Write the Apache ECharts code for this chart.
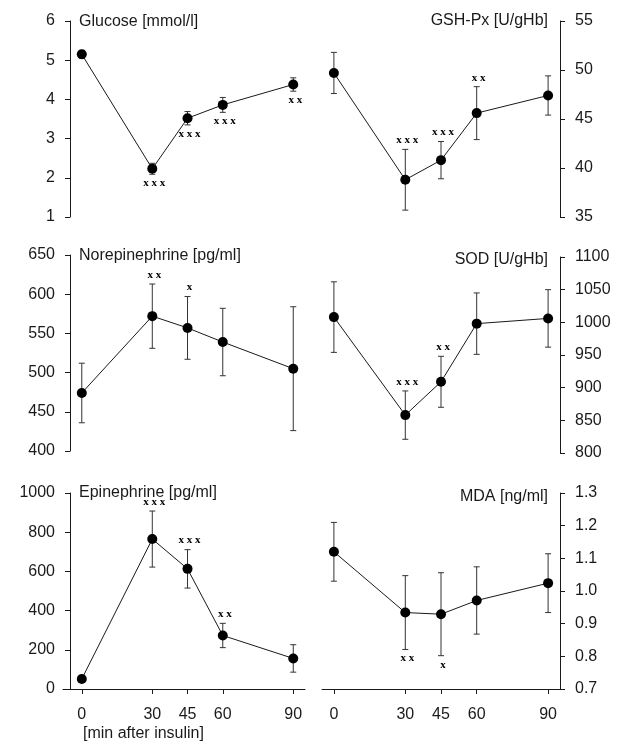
<!DOCTYPE html>
<html>
<head>
<meta charset="utf-8">
<script src="https://cdn.jsdelivr.net/npm/echarts@6/dist/echarts.min.js"></script>
<style>
  html, body { margin: 0; padding: 0; background: #fff; }
  #chart { width: 621px; height: 745px; }
</style>
</head>
<body>
<div id="chart"></div>
<script>
// time points, minutes after insulin
const minutes = [0, 30, 45, 60, 90];

const glucoseMean = [5.15, 2.23, 3.52, 3.86, 4.38];
const glucoseSd = [0.1, 0.14, 0.17, 0.19, 0.17];
const glucoseSig = ['', 'x x x', 'x x x', 'x x x', 'x x'];

const gshMean = [49.7, 38.8, 40.8, 45.6, 47.4];
const gshSd = [2.1, 3.1, 1.9, 2.7, 2.0];
const gshSig = ['', 'x x x', 'x x x', 'x x', ''];

const norepiMean = [474, 572, 557, 539, 505];
const norepiSd = [38, 41, 40, 43, 79];
const norepiSig = ['', 'x x', 'x', '', ''];

const sodMean = [1008, 858, 909, 998, 1006];
const sodSd = [54, 37, 39, 47, 44];
const sodSig = ['', 'x x x', 'x x', '', ''];

const epiMean = [51, 765, 613, 273, 156];
const epiSd = [15, 143, 98, 62, 70];
const epiSig = ['', 'x x x', 'x x x', 'x x', ''];

const mdaMean = [1.12, 0.934, 0.929, 0.971, 1.024];
const mdaSd = [0.09, 0.113, 0.127, 0.103, 0.09];
const mdaSig = ['', 'x x', 'x', '', ''];

const panels = [
  { title: 'Glucose [mmol/l]', mean: glucoseMean, sd: glucoseSd, sig: glucoseSig, side: -1, min: 1, max: 6, step: 1, col: 0, top: 21, titleTop: 14 },
  { title: 'GSH-Px [U/gHb]', mean: gshMean, sd: gshSd, sig: gshSig, side: 1, min: 35, max: 55, step: 5, col: 1, top: 21, titleTop: 13 },
  { title: 'Norepinephrine [pg/ml]', mean: norepiMean, sd: norepiSd, sig: norepiSig, side: 1, min: 400, max: 650, step: 50, col: 0, top: 255, titleTop: 248 },
  { title: 'SOD [U/gHb]', mean: sodMean, sd: sodSd, sig: sodSig, side: 1, min: 800, max: 1100, step: 50, col: 1, top: 257, titleTop: 252 },
  { title: 'Epinephrine [pg/ml]', mean: epiMean, sd: epiSd, sig: epiSig, side: 1, min: 0, max: 1000, step: 200, col: 0, top: 493, titleTop: 485, bottomRow: true },
  { title: 'MDA [ng/ml]', mean: mdaMean, sd: mdaSd, sig: mdaSig, side: -1, min: 0.7, max: 1.3, step: 0.1, col: 1, top: 493, titleTop: 489, bottomRow: true, decimals: 1 }
];

const cols = [
  { left: 63, width: 242, xMin: -8, xMax: 95, pos: 'left', offset: -7 },
  { left: 322, width: 238, xMin: -5, xMax: 95, pos: 'right', offset: 0 }
];

const ink = '#1a1a1a';
const font = 'Liberation Sans';

const grids = [], xAxes = [], yAxes = [], series = [], titles = [];

panels.forEach((p, i) => {
  const c = cols[p.col];
  grids.push({ left: c.left, width: c.width, top: p.top, height: 196, outerBoundsMode: 'none' });
  xAxes.push({
    type: 'value', gridIndex: i, min: c.xMin, max: c.xMax, show: !!p.bottomRow,
    axisLine: { show: true, onZero: false, lineStyle: { color: ink, width: 1 } },
    axisTick: { show: true, length: 5, customValues: minutes, lineStyle: { color: ink } },
    axisLabel: { customValues: minutes, margin: 18, color: ink, fontSize: 16, fontFamily: font },
    splitLine: { show: false }
  });
  yAxes.push({
    type: 'value', gridIndex: i, min: p.min, max: p.max, interval: p.step,
    position: c.pos, offset: c.offset,
    axisLine: { show: true, onZero: false, lineStyle: { color: ink, width: 1 } },
    axisTick: { show: true, length: 5, lineStyle: { color: ink } },
    axisLabel: {
      margin: 15, color: ink, fontSize: 16, fontFamily: font,
      formatter: v => p.decimals ? v.toFixed(p.decimals) : String(Math.round(v))
    },
    splitLine: { show: false }
  });

  const t = { text: p.title, top: p.titleTop, padding: 0,
    textStyle: { fontSize: 16, fontWeight: 'normal', color: ink, fontFamily: font } };
  if (p.col === 0) t.left = 79; else t.right = 621 - 548;
  titles.push(t);

  // error bars
  series.push({
    type: 'custom', xAxisIndex: i, yAxisIndex: i, z: 1, silent: true,
    data: minutes.map((m, k) => [m, p.mean[k] - p.sd[k], p.mean[k] + p.sd[k]]),
    renderItem: (params, api) => {
      const lo = api.coord([api.value(0), api.value(1)]);
      const hi = api.coord([api.value(0), api.value(2)]);
      const w = 3;
      const style = { stroke: '#333', lineWidth: 1 };
      return { type: 'group', children: [
        { type: 'line', shape: { x1: lo[0], y1: lo[1], x2: hi[0], y2: hi[1] }, style },
        { type: 'line', shape: { x1: lo[0] - w, y1: lo[1], x2: lo[0] + w, y2: lo[1] }, style },
        { type: 'line', shape: { x1: hi[0] - w, y1: hi[1], x2: hi[0] + w, y2: hi[1] }, style }
      ] };
    }
  });

  // mean line with dots
  series.push({
    type: 'line', xAxisIndex: i, yAxisIndex: i, z: 3, silent: true,
    data: minutes.map((m, k) => [m, p.mean[k]]),
    symbol: 'circle', symbolSize: 10, showSymbol: true,
    lineStyle: { color: ink, width: 1 },
    itemStyle: { color: '#000' }
  });

  // significance marks beyond the error bar end
  series.push({
    type: 'custom', xAxisIndex: i, yAxisIndex: i, z: 4, silent: true,
    data: minutes.map((m, k) => [m, p.mean[k] + p.side * p.sd[k]]),
    renderItem: (params, api) => {
      const s = p.sig[params.dataIndex];
      if (!s) return null;
      const pt = api.coord([api.value(0), api.value(1)]);
      return {
        type: 'text', x: pt[0] + 2, y: pt[1] - p.side * 9,
        style: { text: s, align: 'center', verticalAlign: 'middle',
          fontSize: 11, fontWeight: 'bold', fontFamily: 'Liberation Serif', fill: '#000' }
      };
    }
  });
});

const chart = echarts.init(document.getElementById('chart'));
chart.setOption({
  animation: false,
  backgroundColor: '#fff',
  title: titles,
  grid: grids,
  xAxis: xAxes,
  yAxis: yAxes,
  series: series,
  graphic: [{
    type: 'text', left: 83, top: 726,
    style: { text: '[min after insulin]', fontSize: 16, fontFamily: font, fill: ink }
  }]
});
</script>
</body>
</html>
